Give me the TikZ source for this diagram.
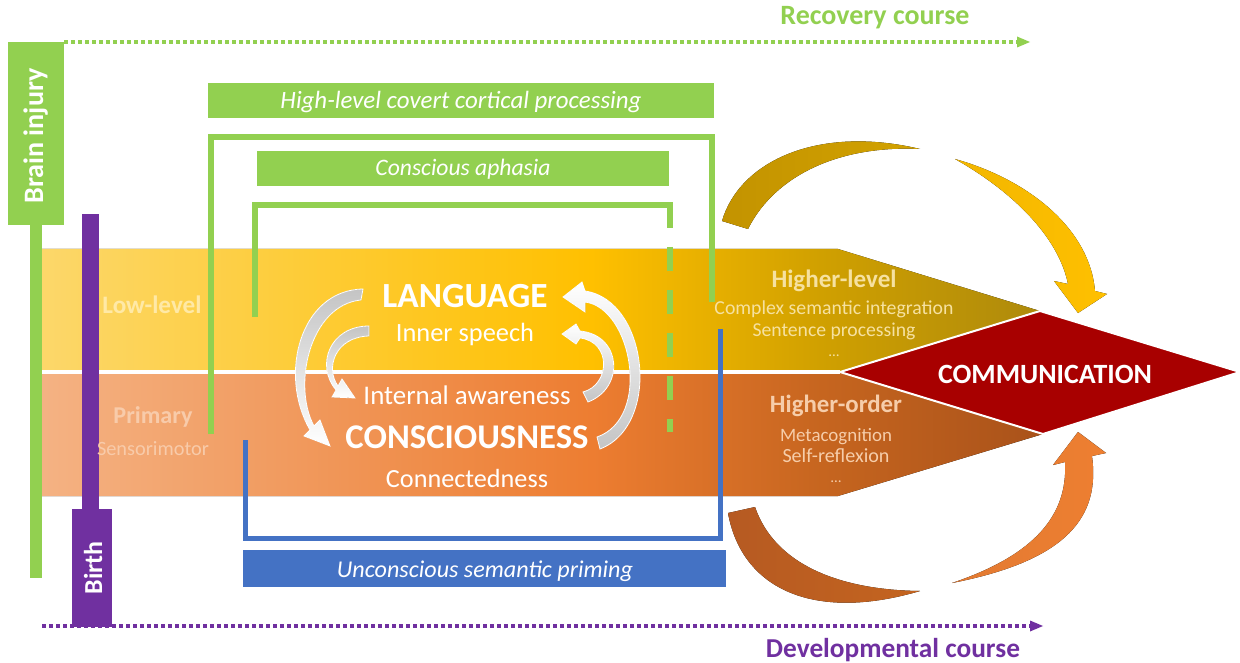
\documentclass[tikz,border=0pt]{standalone}
\usepackage{fontspec}
\setmainfont{Carlito}
\usepackage{graphicx}
\definecolor{grn}{HTML}{92D050}
\definecolor{pur}{HTML}{7030A0}
\definecolor{blu}{HTML}{4472C4}
\definecolor{comm}{HTML}{A80000}
\definecolor{yA}{HTML}{FCD76A}
\definecolor{yB}{HTML}{FFC000}
\definecolor{yC}{HTML}{D0A000}
\definecolor{yD}{HTML}{AE8A0C}
\definecolor{oA}{HTML}{F4B283}
\definecolor{oB}{HTML}{ED7D31}
\definecolor{oC}{HTML}{C6651F}
\definecolor{oD}{HTML}{A9521A}
\definecolor{gA}{HTML}{C39300}
\definecolor{gB}{HTML}{D2A200}
\definecolor{gC}{HTML}{F2B600}
\definecolor{gD}{HTML}{FFC000}
\definecolor{rA}{HTML}{B65A22}
\definecolor{rB}{HTML}{C4641F}
\definecolor{rC}{HTML}{E27A32}
\definecolor{rD}{HTML}{EE7F31}
\definecolor{lowtxt}{HTML}{FFE9A6}
\definecolor{primtxt}{HTML}{F8CBAA}
\definecolor{hltxt}{HTML}{F6E1A0}
\definecolor{hotxt}{HTML}{F6CDAA}
\definecolor{arrgray}{HTML}{C4C4C4}
\pgfdeclarehorizontalshading{ybandsh}{100bp}{color(0bp)=(yA); color(25bp)=(yA); color(52.5bp)=(yB); color(64bp)=(yC); color(75bp)=(yD); color(100bp)=(yD)}
\pgfdeclarehorizontalshading{obandsh}{100bp}{color(0bp)=(oA); color(25bp)=(oA); color(52.5bp)=(oB); color(64bp)=(oC); color(75bp)=(oD); color(100bp)=(oD)}
\begin{document}
\begin{tikzpicture}[x=1pt,y=-1pt,
  txt/.style={inner sep=0pt, outer sep=0pt, text=white},
  barbox/.style={inner sep=0pt, outer sep=0pt},
  bracket/.style={line width=6pt, line cap=butt, line join=miter},
  dotline/.style={line width=4pt, dash pattern=on 4pt off 3pt},
  centerarrow/.style={draw=white, line width=0.8pt}
]
\useasboundingbox (0,0) rectangle (1240,663);
\fill[white] (0,0) rectangle (1240,663);

% ---------------- bands ----------------
\fill[shading=ybandsh] (42,249) -- (838,249) -- (1040,311) -- (840,372) -- (42,372) -- cycle;
\fill[shading=obandsh] (42,372) -- (840,372) -- (1043,434) -- (838,496) -- (42,496) -- cycle;
\draw[white, line width=4pt] (42,372) -- (840,372);
\fill[comm, draw=white, line width=2pt] (840,372) -- (1040,311) -- (1240,372) -- (1043,434) -- cycle;

% ---------------- brain injury / birth ----------------
\fill[grn] (30,225) rectangle (42,578);
\node[barbox, fill=grn, minimum width=56pt, minimum height=183pt] (bibox) at (36,133.5) {};
\fill[pur] (82,214) rectangle (99,509);
\node[barbox, fill=pur, minimum width=40pt, minimum height=118pt] (birthbox) at (92,568) {};

% ---------------- dotted course lines ----------------
\coordinate (recA) at (64,42);
\coordinate (recB) at (1018,42);
\coordinate (devA) at (42,626);
\coordinate (devB) at (1031,626);
\draw[grn, dotline] (recA) -- (recB);
\fill[grn] (1017,36.5) -- (1030,42) -- (1017,47.5) -- cycle;
\draw[pur, dotline] (devA) -- (devB);
\fill[pur] (1030,620.5) -- (1043,626) -- (1030,631.5) -- cycle;

% ---------------- labelled boxes ----------------
\fill[grn] (208,83) rectangle (714,118);
\fill[grn] (257,151) rectangle (669,186);
\fill[blu] (243,550) rectangle (726,587);

% ---------------- brackets ----------------
\draw[grn, bracket] (211,434) -- (211,137) -- (712,137) -- (712,302);
\draw[grn, bracket] (255,317) -- (255,205) -- (670,205) -- (670,228);
\draw[grn, line width=6pt, dash pattern=on 24pt off 19pt] (670,247) -- (670,432);
\draw[blu, line width=5pt] (245,440) -- (245,538) -- (720,538) -- (720,329);

% ---------------- big curved arrows ----------------
\fill[left color=gA, right color=gB] (722,221) .. controls (740,160) and (820,125) .. (920,149)
   .. controls (840,145) and (775,175) .. (748,229) -- cycle;
\fill[left color=gC, right color=gD] (955,159) .. controls (1030,180) and (1090,230) .. (1095,291)
   -- (1107,294) -- (1078,313) -- (1054,281) -- (1068,284)
   .. controls (1058,235) and (1010,190) .. (955,159) -- cycle;
\fill[left color=rA, right color=rB] (728,513) .. controls (742,590) and (815,622) .. (920,591)
   .. controls (840,590) and (775,565) .. (755,507) -- cycle;
\fill[left color=rC, right color=rD] (952,583) .. controls (1070,560) and (1100,515) .. (1092,456)
   -- (1106,453) -- (1078,432) -- (1053,465) -- (1065,462)
   .. controls (1068,515) and (1035,555) .. (952,583) -- cycle;

% ---------------- center cycle arrows ----------------
\filldraw[centerarrow, top color=arrgray, bottom color=white]
  (363,289) .. controls (300,290) and (278,375) .. (310,430) -- (304,436) -- (330,446) -- (320,420) -- (314,426)
  .. controls (292,385) and (310,305) .. (361,300) -- cycle;
\filldraw[centerarrow, top color=arrgray, bottom color=white]
  (369,326) .. controls (330,326) and (315,365) .. (336,390) -- (332,397) -- (355,398) -- (342,379) -- (338,386)
  .. controls (325,368) and (335,337) .. (369,336) -- cycle;
\filldraw[centerarrow, bottom color=arrgray, top color=white]
  (600,449) .. controls (662,425) and (648,300) .. (585,291) -- (582,282) -- (563,297) -- (585,312) -- (585,302)
  .. controls (632,308) and (652,418) .. (597,437) -- cycle;
\filldraw[centerarrow, bottom color=arrgray, top color=white]
  (588,402) .. controls (625,388) and (622,335) .. (580,331) -- (576,324) -- (562,334) -- (576,344) -- (580,338)
  .. controls (612,342) and (610,385) .. (583,392) -- cycle;

% ---------------- texts ----------------
\node[txt, text=grn, anchor=base] (rec) at (875,25) {\resizebox{189pt}{!}{\bfseries Recovery course}};
\node[txt, text=pur, anchor=base] (dev) at (893,657) {\resizebox{254pt}{!}{\bfseries Developmental course}};
\node[txt, rotate=90, anchor=base] (bitxt) at (43,136) {\resizebox{135pt}{!}{\bfseries Brain injury}};
\node[txt, rotate=90, anchor=base] (birthtxt) at (102,568) {\resizebox{53pt}{!}{\bfseries Birth}};

\node[txt, anchor=base] (hlc) at (461,109) {\resizebox{361pt}{!}{\itshape High-level covert cortical processing}};
\node[txt, anchor=base] (ca) at (463,176) {\resizebox{175pt}{!}{\itshape Conscious aphasia}};
\node[txt, anchor=base] (usp) at (485,577) {\resizebox{296pt}{!}{\itshape Unconscious semantic priming}};

\node[txt, text=lowtxt, anchor=base] (low) at (152,314) {\resizebox{99pt}{!}{\bfseries Low-level}};
\node[txt, text=primtxt, anchor=base] (prim) at (153,423) {\resizebox{79pt}{!}{\bfseries Primary}};
\node[txt, text=primtxt, anchor=base] (senso) at (153,455) {\resizebox{112pt}{!}{Sensorimotor}};

\node[txt, anchor=base] (lang) at (465,308) {\resizebox{165pt}{!}{\bfseries LANGUAGE}};
\node[txt, anchor=base] (inner) at (465,341) {\resizebox{138pt}{!}{Inner speech}};
\node[txt, anchor=base] (aware) at (467,404) {\resizebox{207pt}{!}{Internal awareness}};
\node[txt, anchor=base] (consc) at (467,448) {\resizebox{243pt}{!}{\bfseries CONSCIOUSNESS}};
\node[txt, anchor=base] (conn) at (467,487) {\resizebox{162pt}{!}{Connectedness}};

\node[txt, text=hltxt, anchor=base] (hl) at (834,287) {\resizebox{125pt}{!}{\bfseries Higher-level}};
\node[txt, text=hltxt, anchor=base] (csi) at (834,315) {\resizebox{239pt}{!}{Complex semantic integration}};
\node[txt, text=hltxt, anchor=base] (sp) at (834,336) {\resizebox{163pt}{!}{Sentence processing}};
\node[txt, text=hltxt, anchor=base, font=\fontsize{15}{15}\selectfont] (dots1) at (834,356) {…};

\node[txt, text=hotxt, anchor=base] (ho) at (836,412) {\resizebox{132pt}{!}{\bfseries Higher-order}};
\node[txt, text=hotxt, anchor=base] (meta) at (836,441) {\resizebox{112pt}{!}{Metacognition}};
\node[txt, text=hotxt, anchor=base] (self) at (836,462) {\resizebox{107pt}{!}{Self-reflexion}};
\node[txt, text=hotxt, anchor=base, font=\fontsize{15}{15}\selectfont] (dots2) at (836,482) {…};

\node[txt, anchor=base] (comtxt) at (1045,383) {\resizebox{214pt}{!}{\bfseries COMMUNICATION}};
\end{tikzpicture}
\end{document}
